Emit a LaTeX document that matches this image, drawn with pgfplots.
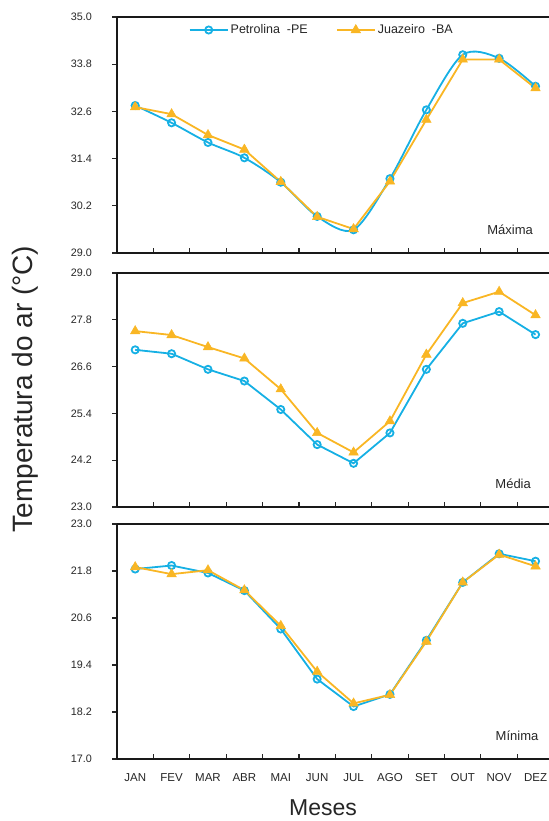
\documentclass[border=0pt]{standalone}
\usepackage{pgfplots}
\pgfplotsset{compat=1.18}
\usepackage{fontspec}
\setmainfont{Liberation Sans}
\definecolor{cy}{RGB}{22,176,228}
\definecolor{orj}{RGB}{249,182,36}
\pgfplotsset{
  panel/.style={
    scale only axis, width=432bp,
    xmin=-0.5, xmax=11.37,
    axis x line*=box, axis y line*=left,
    axis line style={line width=2.2bp, black!90, -},
    every outer y axis line/.append style={-},
    y axis line style={-},
    xtick={0.5,1.5,...,10.5}, xticklabels={},
    xtick pos=left, ytick pos=left,
    tick align=center, major tick length=5bp,
    xtick style={yshift=2.5bp, line width=1.1bp, black!85},
    ytick style={xshift=-2.5bp, line width=1.1bp, black!85},
    /pgf/number format/assume math mode=true,
    yticklabel style={/pgf/number format/fixed, /pgf/number format/fixed zerofill, /pgf/number format/precision=1},
    yticklabel style={xshift=-19bp, font=\fontsize{10.8bp}{12bp}\selectfont, text=black!85},
    xticklabel style={yshift=-11bp, font=\fontsize{11.5bp}{13bp}\selectfont, text=black!85},
    clip=false,
  },
  pet/.style={cy, line width=1.8bp, mark=o, mark size=3.6bp, mark options={line width=1.8bp, solid}},
  jua/.style={orj, line width=1.8bp, mark=triangle*, mark size=5.5bp, mark options={line width=0.5bp, solid}},
}
\begin{document}
\begin{tikzpicture}
\path[use as bounding box] (0,0) rectangle (549bp,-821bp);
% Maxima
\begin{axis}[panel, at={(117bp,-17bp)}, anchor=north west, height=236bp,
  ymin=29, ymax=35, ytick={29,30.2,31.4,32.6,33.8,35},
  legend columns=2,
  legend style={at={(0.474,0.985)}, anchor=north, draw=none, fill=none,
    font=\fontsize{12.5bp}{14bp}\selectfont, text=black!85,
    /tikz/every even column/.append style={column sep=26bp}},
  legend image code/.code={\draw[mark repeat=2, mark phase=2, line width=2bp, #1] plot coordinates {(0bp,0bp) (19bp,0bp) (38bp,0bp)};},
  legend cell align=left]
\addplot[pet, smooth, tension=0.5] coordinates {
(0,32.75) (1,32.31) (2,31.81) (3,31.42) (4,30.80) (5,29.93) (6,29.59) (7,30.89) (8,32.64) (9,34.04) (10,33.95) (11,33.24)};
\addplot[jua] coordinates {
(0,32.71) (1,32.53) (2,32.00) (3,31.63) (4,30.81) (5,29.92) (6,29.61) (7,30.82) (8,32.39) (9,33.92) (10,33.92) (11,33.19)};
\legend{Petrolina\ \ -PE, Juazeiro\ \ -BA}
\node[font=\fontsize{13bp}{15bp}\selectfont, text=black!85] at (rel axis cs:0.91,0.097) {Máxima};
\end{axis}
% Media
\begin{axis}[panel, at={(117bp,-273bp)}, anchor=north west, height=234bp,
  ymin=23, ymax=29, ytick={23,24.2,25.4,26.6,27.8,29}]
\addplot[pet] coordinates {
(0,27.03) (1,26.93) (2,26.53) (3,26.23) (4,25.50) (5,24.60) (6,24.12) (7,24.90) (8,26.53) (9,27.71) (10,28.01) (11,27.42)};
\addplot[jua] coordinates {
(0,27.51) (1,27.41) (2,27.10) (3,26.81) (4,26.02) (5,24.90) (6,24.40) (7,25.20) (8,26.91) (9,28.23) (10,28.52) (11,27.92)};
\node[font=\fontsize{13bp}{15bp}\selectfont, text=black!85] at (rel axis cs:0.917,0.099) {Média};
\end{axis}
% Minima
\begin{axis}[panel, at={(117bp,-524bp)}, anchor=north west, height=235bp,
  ymin=17, ymax=23, ytick={17,18.2,19.4,20.6,21.8,23},
  extra x ticks={0,1,...,11},
  extra x tick labels={JAN,FEV,MAR,ABR,MAI,JUN,JUL,AGO,SET,OUT,NOV,DEZ},
  extra x tick style={major tick length=0pt, xtick style={draw=none}}]
\addplot[pet] coordinates {
(0,21.85) (1,21.94) (2,21.75) (3,21.30) (4,20.32) (5,19.04) (6,18.34) (7,18.65) (8,20.03) (9,21.51) (10,22.24) (11,22.05)};
\addplot[jua] coordinates {
(0,21.90) (1,21.72) (2,21.82) (3,21.31) (4,20.40) (5,19.23) (6,18.42) (7,18.64) (8,20.00) (9,21.51) (10,22.22) (11,21.92)};
\node[font=\fontsize{13bp}{15bp}\selectfont, text=black!85] at (rel axis cs:0.926,0.098) {Mínima};
\end{axis}
\node[font=\fontsize{23bp}{26bp}\selectfont, text=black!85] at (323bp,-808bp) {Meses};
\node[font=\fontsize{28bp}{30bp}\selectfont, text=black!85, rotate=90] at (25bp,-389bp) {Temperatura do ar (°C)};
\end{tikzpicture}
\end{document}
